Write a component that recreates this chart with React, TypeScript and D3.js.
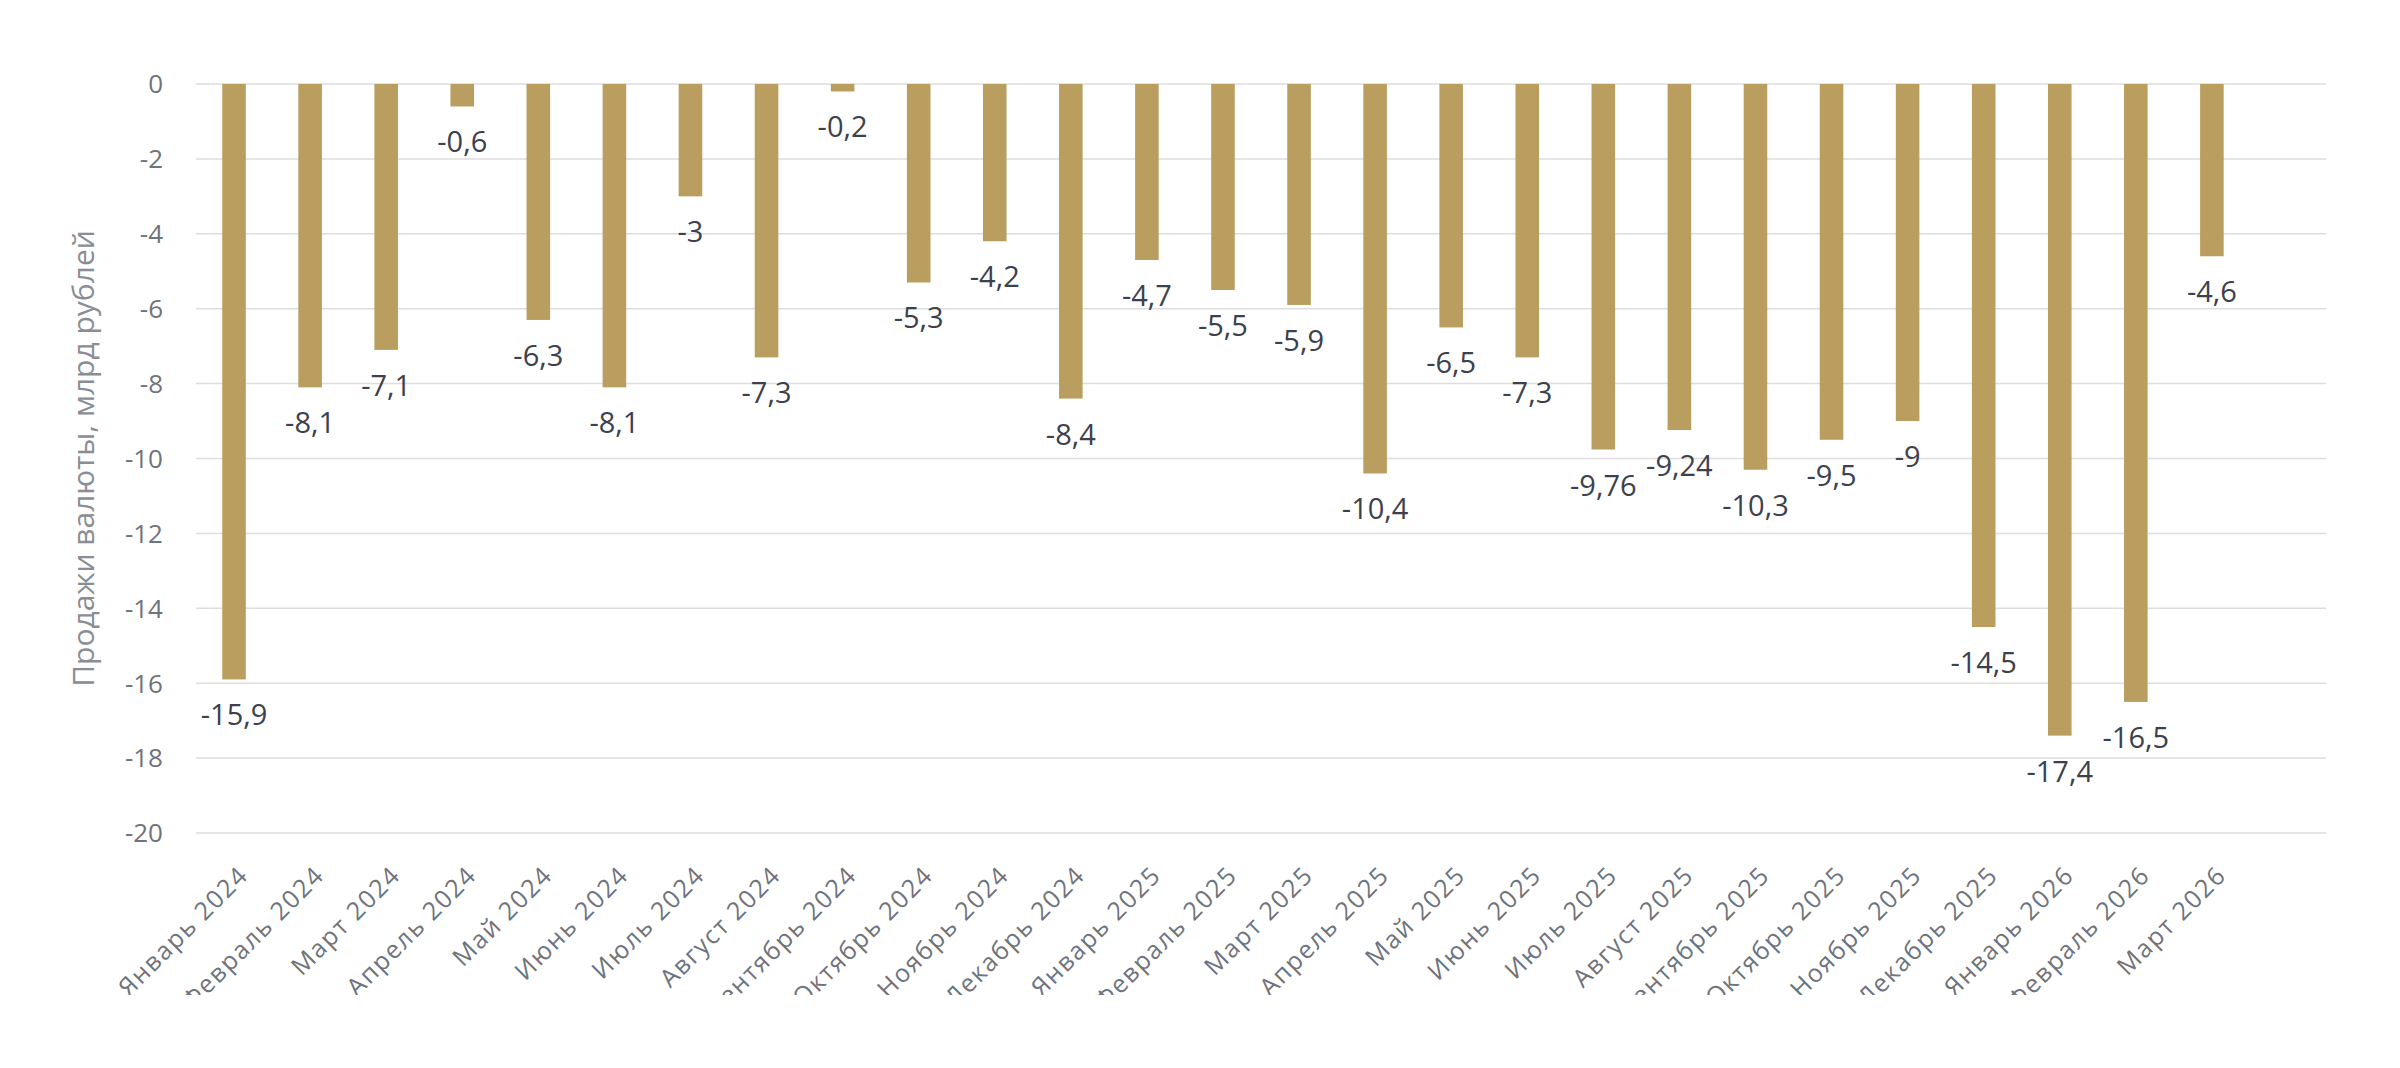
import { useEffect, useRef } from 'react';
import * as d3 from 'd3';

// Monthly values, bn rubles
const months = [
  'Январь 2024', 'Февраль 2024', 'Март 2024', 'Апрель 2024', 'Май 2024', 'Июнь 2024',
  'Июль 2024', 'Август 2024', 'Сентябрь 2024', 'Октябрь 2024', 'Ноябрь 2024', 'Декабрь 2024',
  'Январь 2025', 'Февраль 2025', 'Март 2025', 'Апрель 2025', 'Май 2025', 'Июнь 2025',
  'Июль 2025', 'Август 2025', 'Сентябрь 2025', 'Октябрь 2025', 'Ноябрь 2025', 'Декабрь 2025',
  'Январь 2026', 'Февраль 2026', 'Март 2026',
];
const sales = [
  -15.9, -8.1, -7.1, -0.6, -6.3, -8.1, -3, -7.3, -0.2, -5.3, -4.2, -8.4,
  -4.7, -5.5, -5.9, -10.4, -6.5, -7.3, -9.76, -9.24, -10.3, -9.5, -9, -14.5,
  -17.4, -16.5, -4.6,
];
const yTicks = [0, -2, -4, -6, -8, -10, -12, -14, -16, -18, -20];
const yTitle = 'Продажи валюты, млрд рублей';

const W = 2400, H = 1068;
const FONT = '"Open Sans", "Noto Sans", sans-serif';

export default function App() {
  const svgRef = useRef<SVGSVGElement>(null);

  useEffect(() => {
    document.body.style.margin = '0';
    if (!svgRef.current) return;
    const svg = d3.select(svgRef.current);
    svg.selectAll('*').remove();

    const left = 196, right = 2326, top = 84, bottom = 833;
    const step = (right - left) / 28;

    const x = d3.scaleBand<string>().domain(months)
      .range([left, left + step * months.length]).paddingInner(0.69).paddingOuter(0.345);
    const y = d3.scaleLinear().domain([0, -20]).range([top, bottom]);

    const data = months.map((m, i) => ({ m, v: sales[i] }));

    // Clip for the rotated month labels (long ones get cut at the bottom)
    svg.append('defs').append('clipPath').attr('id', 'xlabClip')
      .append('rect').attr('x', 0).attr('y', 0).attr('width', W).attr('height', 995);

    // Grid
    svg.append('g').selectAll('line').data(yTicks).enter().append('line')
      .attr('x1', left).attr('x2', right)
      .attr('y1', d => y(d)).attr('y2', d => y(d))
      .attr('stroke', '#dddddf').attr('stroke-width', 1.5);

    // Y tick labels
    svg.append('g').selectAll('text').data(yTicks).enter().append('text')
      .attr('x', 163).attr('y', d => y(d)).attr('dy', '0.36em')
      .attr('text-anchor', 'end').attr('font-family', FONT).attr('font-size', 26)
      .attr('fill', '#6f737c').text(d => String(d));

    // Axis title
    svg.append('text')
      .attr('transform', `translate(94,${(top + bottom) / 2}) rotate(-90)`)
      .attr('text-anchor', 'middle').attr('font-family', FONT).attr('font-size', 30)
      .attr('fill', '#8a8d94').text(yTitle);

    // Bars
    svg.append('g').selectAll('rect').data(data).enter().append('rect')
      .attr('x', d => x(d.m)!).attr('width', x.bandwidth())
      .attr('y', y(0)).attr('height', d => y(d.v) - y(0))
      .attr('fill', '#BA9E5F');

    // Value labels
    svg.append('g').selectAll('text').data(data).enter().append('text')
      .attr('x', d => x(d.m)! + x.bandwidth() / 2).attr('y', d => y(d.v) + 46)
      .attr('text-anchor', 'middle').attr('font-family', FONT).attr('font-size', 29)
      .attr('fill', '#3d414d').text(d => String(d.v).replace('.', ','));

    // Month labels
    svg.append('g').attr('clip-path', 'url(#xlabClip)')
      .selectAll('text').data(months).enter().append('text')
      .attr('transform', d => `translate(${x(d)! + x.bandwidth() / 2 + 3},864) rotate(-45)`)
      .attr('dy', '0.72em').attr('text-anchor', 'end')
      .attr('font-family', FONT).attr('font-size', 25).attr('letter-spacing', 1.6)
      .attr('fill', '#6f737c')
      .text(d => d);
  }, []);

  return <svg ref={svgRef} width={W} height={H} viewBox={`0 0 ${W} ${H}`} style={{ display: 'block', background: '#fff' }} />;
}
